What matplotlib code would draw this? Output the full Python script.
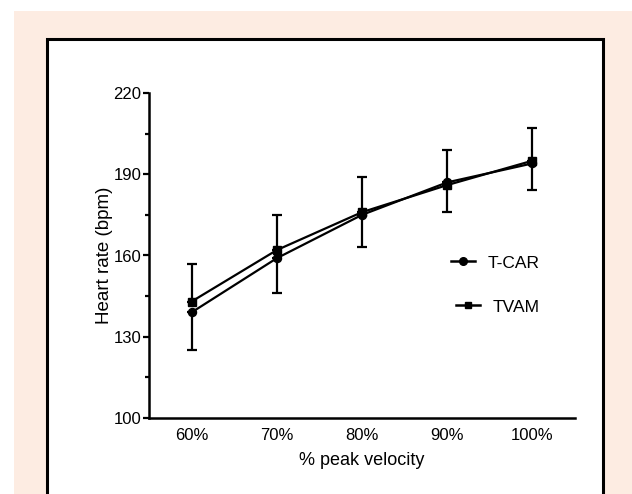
import matplotlib
matplotlib.use("Agg")
import matplotlib.pyplot as plt
from matplotlib.patches import Rectangle
from matplotlib.lines import Line2D
import numpy as np

categories = ["60%", "70%", "80%", "90%", "100%"]
tcar = [139, 159, 175, 187, 194]
tcar_err = [14, 13, 12, 11, 10]
tvam = [143, 162, 176, 186, 195]
tvam_err = [14, 13, 13, 13, 12]
yticks = [100, 130, 160, 190, 220]

plt.rcParams['font.family'] = ['Liberation Sans', 'DejaVu Sans']

W, H = 632, 494
fig = plt.figure(figsize=(W/100, H/100), dpi=100, facecolor='white')

# peach background
fig.patches.append(Rectangle((14/W, 0), 1 - 14/W, (H-11)/H, transform=fig.transFigure,
                             facecolor='#FDECE2', edgecolor='none', zorder=-3))
# white framed panel
fig.patches.append(Rectangle((47/W, -0.05), (603-47)/W, (H-39)/H + 0.05, transform=fig.transFigure,
                             facecolor='white', edgecolor='black', linewidth=2.2, zorder=-2))

ax = fig.add_axes([149/W, (H-418)/H, (575-149)/W, (418-93)/H])
ax.set_zorder(5)
ax.set_facecolor('none')
x = np.arange(len(categories))

lw = 1.6
ax.errorbar(x, tvam, yerr=[np.zeros(len(x)), tvam_err], color='black', lw=lw, marker='s',
            markersize=5.5, capsize=3.5, capthick=1.6, elinewidth=1.6, label='TVAM', zorder=3)
ax.errorbar(x, tcar, yerr=[tcar_err, np.zeros(len(x))], color='black', lw=lw, marker='o',
            markersize=5.8, capsize=3.5, capthick=1.6, elinewidth=1.6, label='T-CAR', zorder=3)

ax.set_xlim(-0.5, 4.5)
ax.set_ylim(100, 220)
ax.set_xticks(x)
ax.set_xticklabels(categories)
ax.set_yticks(yticks)
ax.set_yticks([115, 145, 175, 205], minor=True)
ax.tick_params(axis='y', which='major', direction='out', length=4, width=1.6, labelsize=12, pad=1.5)
ax.tick_params(axis='y', which='minor', direction='out', length=3, width=1.6)
ax.tick_params(axis='x', which='major', length=0, labelsize=12, pad=7)
for s in ['top', 'right']:
    ax.spines[s].set_visible(False)
for s in ['left', 'bottom']:
    ax.spines[s].set_linewidth(1.8)

ax.set_xlabel('% peak velocity', fontsize=13, labelpad=7)
ax.set_ylabel('Heart rate (bpm)', fontsize=13.5, labelpad=0)

# legend entries
h1 = Line2D([], [], color='black', lw=1.8, marker='o', markersize=5.5)
h2 = Line2D([], [], color='black', lw=1.8, marker='s', markersize=5)
leg1 = ax.legend([h1], ['T-CAR'], loc='center left',
                 bbox_to_anchor=((451-149)/(575-149), (418-263)/(418-93)),
                 frameon=False, fontsize=12.5, handlelength=1.4,
                 handletextpad=0.7, borderaxespad=0, borderpad=0)
ax.add_artist(leg1)
leg2 = ax.legend([h2], ['TVAM'], loc='center left',
                 bbox_to_anchor=((456-149)/(575-149), (418-307)/(418-93)),
                 frameon=False, fontsize=12.5, handlelength=1.4,
                 handletextpad=0.7, borderaxespad=0, borderpad=0)

fig.savefig('out.png', dpi=100, facecolor='white')
